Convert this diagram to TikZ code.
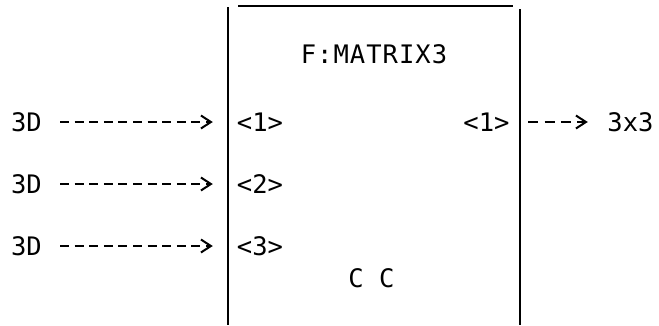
\documentclass[tikz,border=0pt]{standalone}
\usepackage{fontspec}
\setmonofont{DejaVu Sans Mono}
\usetikzlibrary{arrows.meta,positioning}

\begin{document}
\begin{tikzpicture}[x=1pt,y=-1pt,
  lbl/.style={inner sep=0pt,font=\ttfamily\fontsize{25.5}{26}\selectfont},
  feed/.style={line width=2pt,-{Straight Barb[length=10pt,width=13pt,line width=2pt]}}]
\useasboundingbox (0,0) rectangle (659,325);
% block, open at the bottom
\draw[line width=2.6pt] (228,7)--(228,325);
\draw[line width=1.5pt] (238,6)--(513,6);
\draw[line width=2.6pt] (520,9)--(520,325);
\node[lbl] (fname) at (374,54) {\addfontfeature{LetterSpace=4}F:MATRIX3};
\node[lbl] (cc) at (371.5,278) {C C};
\foreach \i/\y in {1/122,2/184,3/246}{
  \node[lbl] (src\i) at (26.5,\y) {3D};
  \node[lbl] (in\i) at (260,\y) {<\i>};
  \draw[feed,dash pattern=on 9pt off 5.6pt,shorten <=18pt,shorten >=24pt] (src\i.east)--(in\i.west);
}
\node[lbl] (out1) at (486.5,122) {<1>};
\node[lbl] (dst) at (630.5,122) {3x3};
\draw[feed,dash pattern=on 10pt off 6.3pt,shorten <=18.5pt,shorten >=19.5pt] (out1.east)--(dst.west);
\end{tikzpicture}
\end{document}
